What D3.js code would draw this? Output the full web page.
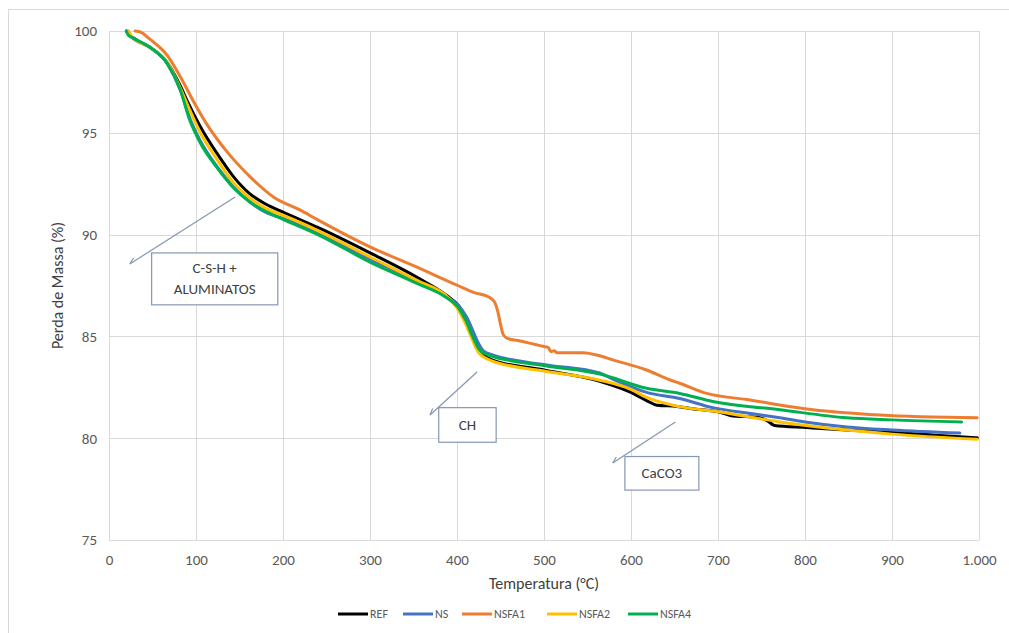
<!DOCTYPE html>
<html>
<head>
<meta charset="utf-8">
<script src="https://cdn.jsdelivr.net/npm/d3@7"></script>
<style>
  body { margin: 0; background: #fff; }
  svg { font-family: Carlito, Calibri, Lato, 'Open Sans', sans-serif; }
</style>
</head>
<body>
<div id="chart"></div>
<script>
// [temperatura °C, massa %]
const REF = [[20, 100], [24, 99.8], [30, 99.6], [47, 99.2], [67, 98.45], [82, 97.3], [90, 96.55], [105, 95.3], [124, 94.0], [143, 92.85], [162, 92.0], [180, 91.5], [200, 91.1], [240, 90.35], [300, 89.1], [354, 87.9], [390, 86.95], [402, 86.5], [412, 85.7], [420, 84.9], [428, 84.2], [440, 83.85], [500, 83.35], [564, 82.8], [600, 82.25], [618, 81.85], [630, 81.62], [653, 81.56], [670, 81.45], [700, 81.3], [714, 81.12], [748, 81.0], [757, 80.85], [765, 80.62], [802, 80.52], [848, 80.4], [900, 80.28], [950, 80.15], [998, 80.02]]
const NS = [[22, 100], [26, 99.7], [47, 99.2], [67, 98.4], [82, 97.1], [93, 95.7], [105, 94.6], [124, 93.35], [143, 92.35], [162, 91.6], [182, 91.05], [200, 90.8], [240, 90.05], [300, 88.8], [354, 87.7], [388, 86.95], [400, 86.6], [411, 85.95], [418, 85.3], [423, 84.8], [430, 84.3], [440, 84.1], [503, 83.6], [564, 83.2], [579, 82.9], [618, 82.25], [656, 81.95], [694, 81.5], [740, 81.2], [771, 81.0], [800, 80.8], [848, 80.55], [900, 80.4], [978, 80.25]]
const NSFA1 = [[30, 100], [36, 99.95], [47, 99.6], [67, 98.8], [82, 97.75], [97, 96.55], [112, 95.45], [136, 94.05], [162, 92.85], [189, 91.85], [220, 91.2], [239, 90.75], [300, 89.4], [354, 88.4], [401, 87.5], [420, 87.15], [436, 86.95], [443, 86.7], [447, 86.2], [450, 85.6], [453, 85.1], [458, 84.9], [470, 84.8], [490, 84.6], [500, 84.5], [505, 84.45], [508, 84.25], [512, 84.3], [515, 84.2], [545, 84.2], [564, 84.05], [579, 83.85], [618, 83.35], [645, 82.86], [656, 82.7], [687, 82.2], [733, 81.9], [809, 81.4], [886, 81.14], [998, 81.0]]
const NSFA2 = [[22, 100], [27, 99.7], [47, 99.2], [67, 98.45], [82, 97.2], [92, 96.2], [105, 95.0], [124, 93.7], [143, 92.55], [162, 91.8], [182, 91.25], [200, 90.95], [240, 90.2], [300, 88.9], [354, 87.75], [390, 86.9], [400, 86.4], [410, 85.6], [418, 84.8], [425, 84.2], [440, 83.8], [500, 83.3], [564, 82.85], [600, 82.4], [618, 82.0], [656, 81.55], [700, 81.3], [771, 80.8], [848, 80.4], [900, 80.2], [998, 79.95]]
const NSFA4 = [[20, 100], [22, 99.8], [28, 99.65], [47, 99.2], [67, 98.4], [82, 97.1], [93, 95.6], [105, 94.5], [124, 93.3], [143, 92.3], [162, 91.6], [182, 91.1], [200, 90.75], [240, 90.0], [300, 88.65], [354, 87.6], [388, 86.9], [401, 86.45], [410, 85.8], [418, 85.0], [425, 84.4], [435, 84.1], [503, 83.55], [564, 83.15], [618, 82.45], [656, 82.2], [694, 81.8], [771, 81.4], [848, 81.0], [900, 80.9], [980, 80.8]]

const seriesNames = ['REF', 'NS', 'NSFA1', 'NSFA2', 'NSFA4']
const seriesData = [REF, NS, NSFA1, NSFA2, NSFA4]
const seriesColors = ['#000000', '#4472C4', '#ED7D31', '#FFC000', '#00B050']

const xTicks = [0, 100, 200, 300, 400, 500, 600, 700, 800, 900, 1000]
const yTicks = [75, 80, 85, 90, 95, 100]

// anotações: caixa [t0, t1, m0, m1], seta [t, m] -> [t, m]
const notes = [
  { lines: ['C-S-H +', 'ALUMINATOS'], box: [49, 194, 89.1, 86.55], from: [145, 91.85], to: [24, 88.56] },
  { lines: ['CH'], box: [379, 445, 81.5, 79.8], from: [423, 83.25], to: [369, 81.14] },
  { lines: ['CaCO3'], box: [593, 678, 79.1, 77.45], from: [651, 80.8], to: [579, 78.78] }
]

const W = 1009
const H = 633
const margin = { top: 31, right: 30, bottom: 93, left: 109 }
const width = W - margin.left - margin.right
const height = H - margin.top - margin.bottom

const svg = d3.select('#chart').append('svg')
  .attr('width', W)
  .attr('height', H)

// borda do gráfico
svg.append('rect')
  .attr('x', 8.5).attr('y', 9.5)
  .attr('width', 1020).attr('height', 640)
  .attr('fill', 'none')
  .attr('stroke', '#d9d9d9')

const g = svg.append('g')
  .attr('transform', `translate(${margin.left},${margin.top})`)

const x = d3.scaleLinear().domain([0, 1000]).range([0, width])
const y = d3.scaleLinear().domain([75, 100]).range([height, 0])

const locale = d3.formatLocale({ decimal: ',', thousands: '.', grouping: [3], currency: ['', ''] })
const fmt = locale.format(',d')

// grelha
g.append('g').selectAll('line').data(xTicks).enter().append('line')
  .attr('x1', d => Math.round(x(d)) + 0.5).attr('x2', d => Math.round(x(d)) + 0.5)
  .attr('y1', 0).attr('y2', height)
  .attr('stroke', '#d9d9d9')
g.append('g').selectAll('line').data(yTicks).enter().append('line')
  .attr('y1', d => Math.round(y(d)) + 0.5).attr('y2', d => Math.round(y(d)) + 0.5)
  .attr('x1', 0).attr('x2', width)
  .attr('stroke', '#d9d9d9')

// eixos
const xAxis = g.append('g')
  .attr('transform', `translate(0,${height})`)
  .call(d3.axisBottom(x).tickValues(xTicks).tickFormat(fmt).tickSize(0).tickPadding(14))
xAxis.select('.domain').remove()
const yAxis = g.append('g')
  .call(d3.axisLeft(y).tickValues(yTicks).tickSize(0).tickPadding(12))
yAxis.select('.domain').remove()
g.selectAll('.tick text')
  .style('font-family', 'Carlito, Calibri, Lato, sans-serif')
  .style('font-size', '15px')
  .attr('fill', '#595959')

// títulos dos eixos
svg.append('text')
  .attr('x', margin.left + width / 2)
  .attr('y', 589)
  .attr('text-anchor', 'middle')
  .style('font-size', '16px')
  .attr('fill', '#404040')
  .text('Temperatura (°C)')
svg.append('text')
  .attr('transform', `translate(63,${margin.top + height / 2}) rotate(-90)`)
  .attr('text-anchor', 'middle')
  .style('font-size', '16px')
  .attr('fill', '#404040')
  .text('Perda de Massa (%)')

// curvas
const line = d3.line()
  .x(d => x(d[0]))
  .y(d => y(d[1]))
  .curve(d3.curveMonotoneX)

seriesData.forEach((data, i) => {
  g.append('path')
    .datum(data)
    .attr('d', line)
    .attr('fill', 'none')
    .attr('stroke', seriesColors[i])
    .attr('stroke-width', 3)
    .attr('stroke-linejoin', 'round')
    .attr('stroke-linecap', 'round')
})

// anotações
const noteColor = '#8497B0'
notes.forEach(n => {
  const x1 = x(n.from[0])
  const y1 = y(n.from[1])
  const x2 = x(n.to[0])
  const y2 = y(n.to[1])
  g.append('line')
    .attr('x1', x1).attr('y1', y1).attr('x2', x2).attr('y2', y2)
    .attr('stroke', noteColor).attr('stroke-width', 1.2)
  // ponta de seta aberta
  const ang = Math.atan2(y2 - y1, x2 - x1)
  const len = 7
  g.append('path')
    .attr('d', `M${x2 - len * Math.cos(ang - 0.45)},${y2 - len * Math.sin(ang - 0.45)}L${x2},${y2}`)
    .attr('stroke', noteColor).attr('stroke-width', 1.2).attr('fill', 'none')

  const bx = x(n.box[0])
  const by = y(n.box[2])
  const bw = x(n.box[1]) - bx
  const bh = y(n.box[3]) - by
  g.append('rect')
    .attr('x', bx).attr('y', by).attr('width', bw).attr('height', bh)
    .attr('fill', '#fff').attr('stroke', noteColor).attr('stroke-width', 1.2)
  const lh = 21
  n.lines.forEach((t, k) => {
    g.append('text')
      .attr('x', bx + bw / 2)
      .attr('y', by + bh / 2 + (k - (n.lines.length - 1) / 2) * lh + 5)
      .attr('text-anchor', 'middle')
      .style('font-size', '15px')
      .attr('fill', '#404040')
      .text(t)
  })
})

// legenda
const legendX = [338, 403, 462, 547, 628]
const legend = svg.append('g').attr('transform', 'translate(0,614)')
seriesNames.forEach((name, i) => {
  const row = legend.append('g').attr('transform', `translate(${legendX[i]},0)`)
  row.append('line')
    .attr('x1', 0).attr('x2', 30).attr('y1', 0).attr('y2', 0)
    .attr('stroke', seriesColors[i]).attr('stroke-width', 3)
  row.append('text')
    .attr('x', 32).attr('y', 4)
    .style('font-size', '12px')
    .attr('fill', '#595959')
    .text(name)
})
</script>
</body>
</html>
